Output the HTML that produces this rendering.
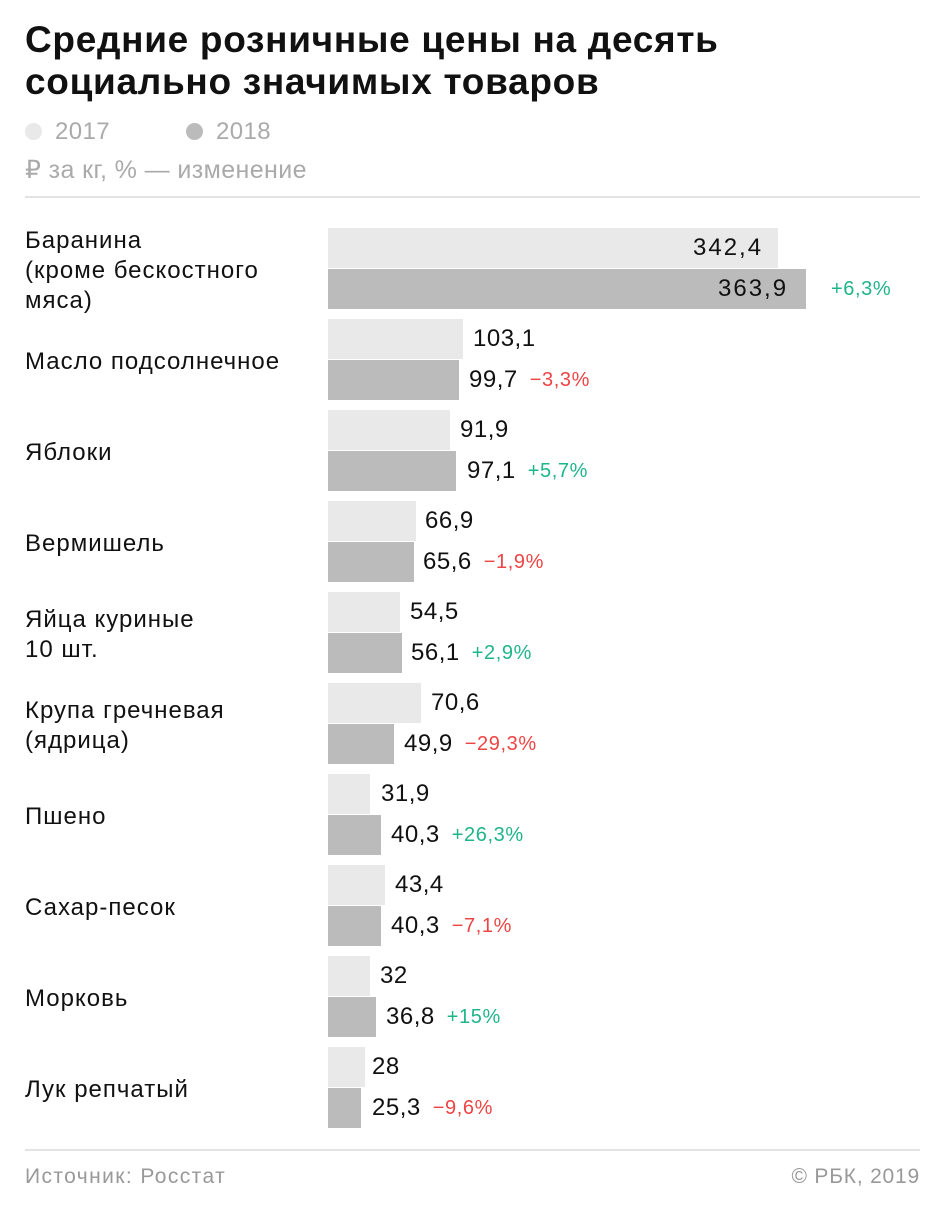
<!DOCTYPE html>
<html><head><meta charset="utf-8"><style>
body{margin:0;width:945px;height:1209px;background:#fff;font-family:"Liberation Sans",sans-serif;position:relative;overflow:hidden}
.a{position:absolute}
h1{position:absolute;left:25px;top:19px;margin:0;font-size:37px;line-height:42px;font-weight:bold;color:#111;letter-spacing:0.7px}
.g{color:#aaa;font-size:24px;letter-spacing:0.4px}
.dot{display:inline-block;width:17px;height:17px;border-radius:50%;margin-right:13px;vertical-align:-1px}
.lab{position:absolute;left:25px;width:300px;height:82px;display:flex;align-items:center;font-size:24px;line-height:30px;color:#111;letter-spacing:1px;padding-top:4px;box-sizing:border-box}
.bar{position:absolute;left:328px;height:40px}
.v{position:absolute;height:40px;display:flex;align-items:center;font-size:24px;color:#111;white-space:nowrap;letter-spacing:0.5px}
.p{font-size:20px;margin-left:12px;letter-spacing:0.6px}
.up{color:#1fb58a}.dn{color:#ee4444}
</style></head><body>
<h1>Средние розничные цены на десять<br>социально значимых товаров</h1>
<div class="a g" style="left:25px;top:118px"><span class="dot" style="background:#e9e9e9"></span>2017</div>
<div class="a g" style="left:186px;top:118px"><span class="dot" style="background:#bbb"></span>2018</div>
<div class="a g" style="left:25px;top:155px;font-size:25px">₽ за кг, % — изменение</div>
<div class="a" style="left:25px;top:196px;width:895px;height:2px;background:#e3e3e3"></div>

<div class="lab" style="top:228px">Баранина<br>(кроме бескостного<br>мяса)</div>
<div class="bar" style="top:228px;width:450px;background:#e9e9e9"></div>
<div class="v" style="top:228px;left:693px;letter-spacing:2px">342,4</div>
<div class="bar" style="top:269px;width:478px;background:#bbb"></div>
<div class="v" style="top:269px;left:718px;letter-spacing:2px">363,9</div>
<div class="v" style="top:269px;left:831px"><span class="p up" style="margin-left:0">+6,3%</span></div>

<div class="lab" style="top:319px">Масло подсолнечное</div>
<div class="bar" style="top:319px;width:135px;background:#e9e9e9"></div>
<div class="v" style="top:319px;left:473px">103,1</div>
<div class="bar" style="top:360px;width:131px;background:#bbb"></div>
<div class="v" style="top:360px;left:469px">99,7<span class="p dn">−3,3%</span></div>

<div class="lab" style="top:410px">Яблоки</div>
<div class="bar" style="top:410px;width:122px;background:#e9e9e9"></div>
<div class="v" style="top:410px;left:460px">91,9</div>
<div class="bar" style="top:451px;width:128px;background:#bbb"></div>
<div class="v" style="top:451px;left:467px">97,1<span class="p up">+5,7%</span></div>

<div class="lab" style="top:501px">Вермишель</div>
<div class="bar" style="top:501px;width:88px;background:#e9e9e9"></div>
<div class="v" style="top:501px;left:425px">66,9</div>
<div class="bar" style="top:542px;width:86px;background:#bbb"></div>
<div class="v" style="top:542px;left:423px">65,6<span class="p dn">−1,9%</span></div>

<div class="lab" style="top:592px">Яйца куриные<br>10 шт.</div>
<div class="bar" style="top:592px;width:72px;background:#e9e9e9"></div>
<div class="v" style="top:592px;left:410px">54,5</div>
<div class="bar" style="top:633px;width:74px;background:#bbb"></div>
<div class="v" style="top:633px;left:411px">56,1<span class="p up">+2,9%</span></div>

<div class="lab" style="top:683px">Крупа гречневая<br>(ядрица)</div>
<div class="bar" style="top:683px;width:93px;background:#e9e9e9"></div>
<div class="v" style="top:683px;left:431px">70,6</div>
<div class="bar" style="top:724px;width:66px;background:#bbb"></div>
<div class="v" style="top:724px;left:404px">49,9<span class="p dn">−29,3%</span></div>

<div class="lab" style="top:774px">Пшено</div>
<div class="bar" style="top:774px;width:42px;background:#e9e9e9"></div>
<div class="v" style="top:774px;left:381px">31,9</div>
<div class="bar" style="top:815px;width:53px;background:#bbb"></div>
<div class="v" style="top:815px;left:391px">40,3<span class="p up">+26,3%</span></div>

<div class="lab" style="top:865px">Сахар-песок</div>
<div class="bar" style="top:865px;width:57px;background:#e9e9e9"></div>
<div class="v" style="top:865px;left:395px">43,4</div>
<div class="bar" style="top:906px;width:53px;background:#bbb"></div>
<div class="v" style="top:906px;left:391px">40,3<span class="p dn">−7,1%</span></div>

<div class="lab" style="top:956px">Морковь</div>
<div class="bar" style="top:956px;width:42px;background:#e9e9e9"></div>
<div class="v" style="top:956px;left:380px">32</div>
<div class="bar" style="top:997px;width:48px;background:#bbb"></div>
<div class="v" style="top:997px;left:386px">36,8<span class="p up">+15%</span></div>

<div class="lab" style="top:1047px">Лук репчатый</div>
<div class="bar" style="top:1047px;width:37px;background:#e9e9e9"></div>
<div class="v" style="top:1047px;left:372px">28</div>
<div class="bar" style="top:1088px;width:33px;background:#bbb"></div>
<div class="v" style="top:1088px;left:372px">25,3<span class="p dn">−9,6%</span></div>

<div class="a" style="left:25px;top:1149px;width:895px;height:2px;background:#e3e3e3"></div>
<div class="a" style="left:25px;top:1165px;font-size:21px;color:#999;letter-spacing:1.4px">Источник: Росстат</div>
<div class="a" style="right:25px;top:1165px;font-size:21px;color:#999;letter-spacing:0.8px">© РБК, 2019</div>
</body></html>
